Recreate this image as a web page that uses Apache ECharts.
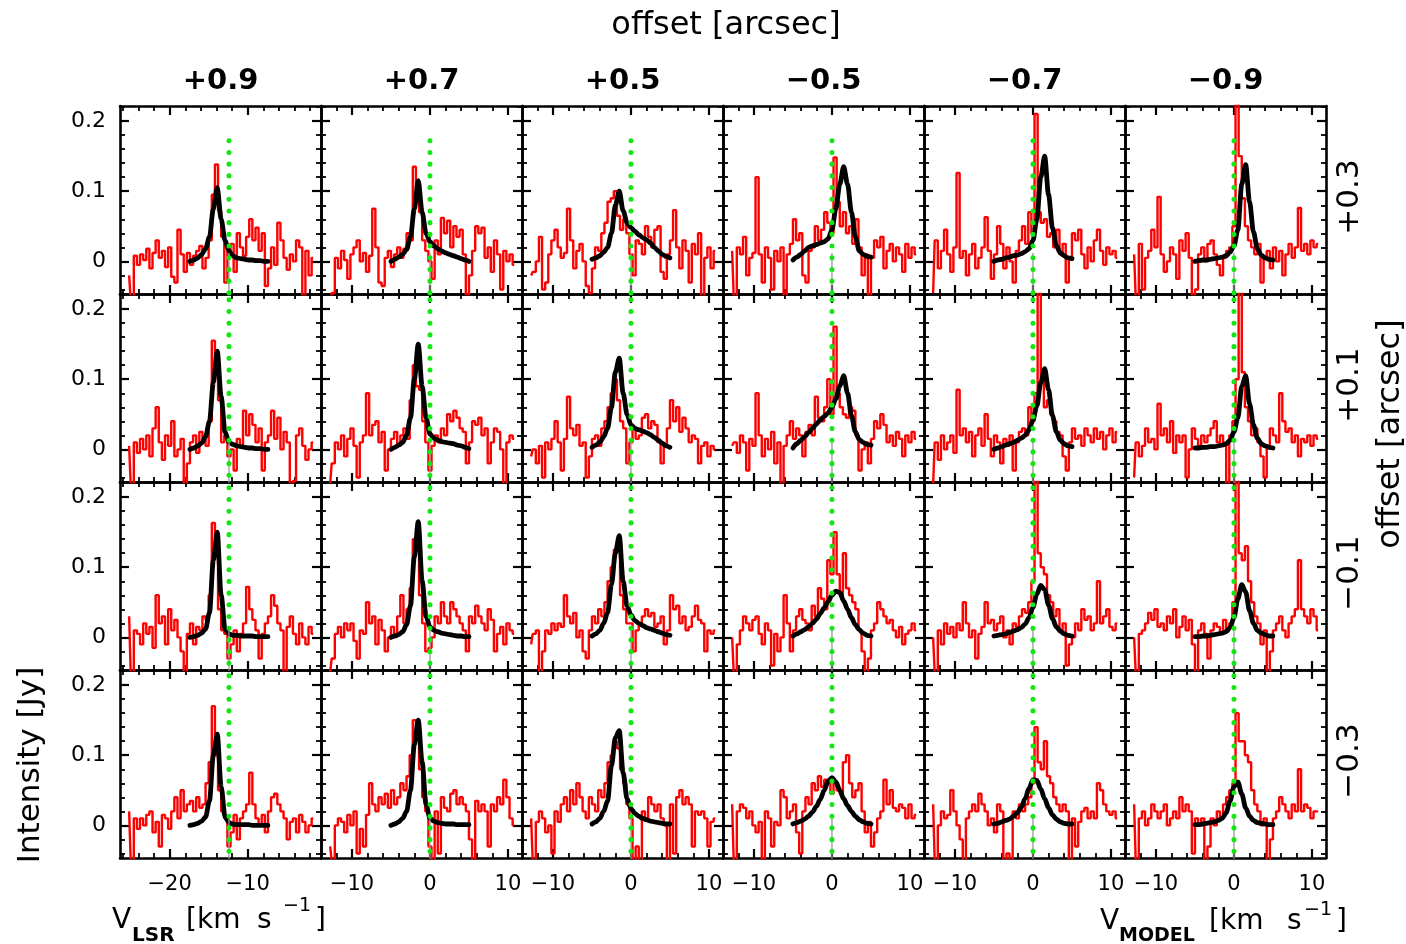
<!DOCTYPE html>
<html><head><meta charset="utf-8">
<script src="https://cdn.jsdelivr.net/npm/echarts/dist/echarts.min.js"></script>
<style>html,body{margin:0;padding:0;background:#fff}#c{width:1406px;height:944px}</style>
</head><body><div id="c"></div>
<script>
// ---------- labels / ticks ----------
const colLabels = ['+0.9', '+0.7', '+0.5', '\u22120.5', '\u22120.7', '\u22120.9'];
const rowLabels = ['+0.3', '+0.1', '\u22120.1', '\u22120.3'];
const vlsrMajorTicks = [-20, -10];
const vlsrMinorTicks = [-26, -24, -22, -20, -18, -16, -14, -12, -10, -8, -6, -4, -2];
const modelMajorTicks = [-10, 0, 10];
const modelMinorTicks = [-12, -10, -8, -6, -4, -2, 0, 2, 4, 6, 8, 10];
const yMajorTicks = [0, 0.1, 0.2];
const yMinorTicks = [-0.04, -0.02, 0, 0.02, 0.04, 0.06, 0.08, 0.1, 0.12, 0.14, 0.16, 0.18, 0.2, 0.22];

// channel grid of the observed spectra (km/s, model frame) and model curve sampling
const chanStart = -12.8, chanWidth = 0.4, chanCount = 60;
const modelStart = -5, modelStep = 0.5, modelCount = 21;
const vlsrOfModelZero = -12.4;        // first column is shown in V_LSR
const greenTop = [0.172, 0.23, 0.23, 0.23];
const greyTop = 0.012;

// ---------- observed spectra (Jy), rows: +0.3,+0.1,-0.1,-0.3 ; cols: +0.9 ... -0.9 ----------
const obs_r1_c1 = [-0.020,-0.055,0.008,-0.005,0.010,0.002,0.018,-0.010,0.012,0.030,0.005,0.015,-0.008,0.020,-0.022,-0.030,0.045,0.010,-0.015,0.012,-0.005,0.008,0.015,0.022,-0.010,0.005,0.030,0.095,0.138,0.072,0.035,-0.030,0.015,0.025,-0.015,0.040,0.020,0.008,0.035,0.060,0.030,0.048,0.015,0.040,-0.035,-0.010,0.020,-0.005,0.055,0.030,0.005,-0.012,0.010,0.000,0.030,0.020,-0.055,0.015,-0.020,0.005];
const obs_r1_c2 = [-0.060,-0.045,0.005,-0.010,0.015,0.002,-0.025,0.010,0.020,0.030,0.000,0.012,-0.015,0.008,0.075,0.020,-0.030,-0.035,0.005,0.015,-0.008,0.010,0.020,0.005,0.018,0.040,0.030,0.135,0.100,0.070,0.030,0.015,0.000,-0.025,0.030,0.010,0.062,0.040,0.058,0.020,0.050,0.035,0.045,0.010,-0.055,-0.020,0.015,0.050,0.040,0.048,0.005,0.020,-0.015,0.030,0.010,-0.040,0.015,0.000,0.010,-0.005];
const obs_r1_c3 = [-0.020,-0.015,0.000,0.035,-0.040,-0.030,0.010,0.030,0.045,0.020,0.005,0.012,0.075,0.030,-0.010,0.015,0.025,0.000,-0.035,-0.045,-0.010,0.020,0.015,0.040,0.055,0.085,0.090,0.100,0.065,0.045,0.060,0.040,0.010,-0.020,0.030,0.025,0.010,0.050,0.035,0.020,0.045,0.050,-0.015,-0.025,0.010,0.030,0.073,0.020,-0.010,0.030,0.015,-0.030,0.025,0.010,0.040,-0.050,0.005,0.020,-0.010,0.015];
const obs_r1_c4 = [0.015,-0.050,0.020,0.010,0.035,-0.020,0.005,0.012,0.120,0.010,-0.030,0.020,0.005,-0.040,0.015,0.000,0.020,-0.055,0.010,0.025,0.060,0.030,0.040,-0.020,-0.030,0.015,0.020,0.050,0.030,0.045,0.070,0.055,0.040,0.148,0.085,0.050,0.070,0.040,0.050,0.025,0.060,0.020,-0.020,0.010,-0.050,0.005,0.030,0.020,0.035,-0.010,0.015,0.025,0.000,0.020,0.010,-0.015,0.025,0.005,0.020,0.010];
const obs_r1_c5 = [-0.045,0.030,-0.010,0.015,0.045,0.010,-0.015,0.020,0.126,0.005,0.015,-0.020,0.010,0.025,-0.010,0.005,0.020,0.063,0.015,-0.025,0.010,0.050,0.025,-0.010,0.020,0.000,-0.030,0.015,0.030,0.050,0.025,0.070,0.040,0.210,0.070,0.055,0.060,0.035,0.040,0.020,0.045,0.010,0.025,-0.030,0.005,0.040,0.030,0.045,0.010,-0.010,0.020,0.000,0.030,0.045,0.015,-0.005,0.020,0.010,0.015,0.005];
const obs_r1_c6 = [0.010,-0.050,0.025,-0.040,0.005,0.015,0.045,0.020,0.092,0.010,-0.015,0.000,0.020,0.010,-0.025,0.030,0.015,0.040,0.005,-0.050,-0.040,0.010,0.020,0.000,0.025,0.030,0.010,-0.005,-0.020,0.005,0.015,0.020,0.050,0.260,0.150,0.090,0.050,0.030,0.020,0.010,0.025,-0.030,0.005,0.015,-0.010,0.020,0.000,0.015,-0.020,0.010,0.025,0.005,0.020,0.076,0.015,0.025,0.010,0.030,0.020,0.025];
const obs_r2_c1 = [0.005,-0.050,0.010,-0.005,0.015,0.000,0.020,-0.010,0.030,0.060,0.010,-0.015,0.020,0.005,0.040,-0.010,0.000,0.015,-0.050,-0.020,0.010,0.020,-0.005,0.025,0.015,0.005,0.040,0.155,0.110,0.070,0.010,0.020,-0.010,0.000,-0.030,0.015,0.005,0.055,0.020,0.050,0.035,0.010,0.030,-0.030,0.010,0.020,0.055,0.015,0.045,0.000,0.025,0.010,-0.050,-0.045,0.020,0.030,0.005,-0.015,0.000,0.010];
const obs_r2_c2 = [-0.050,-0.020,0.010,0.000,0.020,-0.010,0.015,0.030,0.005,-0.040,0.010,0.020,0.080,0.020,0.035,0.040,0.010,0.025,-0.030,0.000,0.015,0.025,0.005,0.020,0.030,0.015,0.070,0.120,0.090,0.085,0.040,0.010,-0.030,0.005,0.020,0.010,0.030,0.020,0.050,0.040,0.055,0.045,0.030,0.025,-0.020,0.010,0.040,0.035,0.045,0.020,0.030,-0.020,0.010,0.030,0.025,0.000,-0.050,0.010,0.020,0.015];
const obs_r2_c3 = [-0.010,0.000,-0.020,0.005,-0.040,0.010,0.000,0.015,0.040,0.010,-0.030,0.015,0.075,0.030,0.020,0.035,0.005,0.010,-0.040,-0.010,0.015,0.020,0.005,0.030,0.040,0.060,0.080,0.100,0.070,0.040,0.030,-0.020,0.010,0.030,0.015,0.020,0.045,0.050,0.030,0.040,0.035,0.010,-0.020,0.005,0.030,0.070,0.040,0.060,0.025,0.045,0.030,0.010,0.020,0.015,-0.020,0.005,0.010,-0.010,0.005,0.000];
const obs_r2_c4 = [0.005,0.010,-0.005,0.020,0.010,-0.030,0.015,0.005,0.080,0.020,-0.010,0.015,0.000,0.025,-0.020,0.010,-0.050,0.005,0.020,0.040,0.015,0.030,0.020,-0.010,0.025,0.035,0.020,0.075,0.045,0.040,0.060,0.100,0.050,0.175,0.080,0.060,0.050,0.045,0.060,0.055,0.020,-0.030,0.000,0.010,-0.020,0.015,0.040,0.030,0.050,0.035,0.010,0.020,0.005,0.025,0.015,-0.010,0.020,0.010,0.025,0.015];
const obs_r2_c5 = [-0.050,0.010,-0.015,0.020,0.000,0.010,0.020,-0.005,0.085,0.020,0.030,0.010,0.025,-0.010,0.020,0.030,0.005,0.050,0.015,-0.010,0.020,0.010,-0.020,0.015,0.005,0.020,-0.030,0.010,0.025,0.030,0.020,0.060,0.040,0.080,0.250,0.100,0.060,0.070,0.050,0.040,0.025,0.020,-0.010,-0.030,0.010,0.030,0.015,0.020,0.005,0.030,0.020,0.010,0.030,0.015,0.025,0.000,0.020,0.030,0.010,0.025];
const obs_r2_c6 = [-0.040,0.010,-0.010,0.005,0.030,0.010,0.015,0.000,0.065,0.020,0.030,0.010,0.040,-0.005,0.020,0.010,0.020,-0.040,0.000,0.030,0.015,0.005,0.020,0.010,0.020,0.030,0.040,0.010,0.020,0.005,-0.050,0.020,0.040,0.100,0.250,0.110,0.060,0.040,0.020,0.030,0.010,-0.010,-0.040,0.005,0.030,0.020,0.010,0.080,0.040,0.025,0.030,0.010,0.020,-0.010,0.015,0.010,0.020,0.005,0.020,0.015];
const obs_r3_c1 = [0.030,-0.050,0.010,0.005,-0.010,0.020,0.005,0.015,-0.015,0.060,0.020,0.030,-0.010,0.040,0.010,0.025,0.000,-0.020,-0.050,0.005,0.020,-0.010,0.015,0.010,0.030,0.025,0.060,0.163,0.120,0.040,0.010,0.005,-0.030,-0.010,0.010,-0.020,0.005,0.020,0.072,0.040,0.025,0.010,-0.030,0.005,0.020,0.030,0.060,0.045,0.020,0.010,-0.050,0.015,0.030,0.005,-0.010,0.020,0.000,-0.010,0.015,0.005];
const obs_r3_c2 = [-0.050,-0.030,0.005,0.015,0.000,0.020,0.010,0.020,-0.005,-0.030,0.010,0.005,0.050,0.020,0.030,-0.010,0.025,0.010,-0.020,0.000,0.015,0.005,0.030,0.060,0.020,0.040,0.070,0.140,0.130,0.060,0.020,-0.020,-0.015,0.000,0.030,0.020,0.050,0.030,0.020,0.050,0.040,0.030,0.020,0.010,-0.020,0.030,0.020,0.045,0.030,0.020,0.010,0.040,0.025,-0.020,0.005,0.015,-0.010,0.020,0.010,0.005];
const obs_r3_c3 = [-0.010,0.005,0.010,-0.050,-0.020,0.010,0.005,0.020,0.010,0.020,0.015,0.060,0.030,0.020,0.035,0.000,0.010,-0.020,-0.030,0.010,0.030,0.020,0.040,0.030,0.050,0.080,0.100,0.125,0.130,0.060,0.040,0.020,0.020,-0.020,0.010,0.020,0.030,0.040,0.030,0.035,0.015,0.020,0.030,-0.010,0.010,0.060,0.040,0.045,0.020,0.030,0.010,0.015,0.030,0.045,0.025,0.020,-0.020,0.010,0.005,0.010];
const obs_r3_c4 = [0.000,-0.050,-0.010,0.010,0.030,0.020,0.010,0.025,0.030,0.005,-0.010,0.020,0.010,-0.040,0.005,-0.020,0.000,0.060,0.020,-0.020,0.010,0.030,0.040,0.025,0.020,0.010,0.045,0.030,0.070,0.055,0.040,0.110,0.090,0.150,0.090,0.060,0.120,0.070,0.060,0.050,0.040,0.010,-0.020,-0.050,-0.030,0.010,0.020,0.050,0.040,0.030,0.020,0.025,0.010,0.000,0.015,-0.010,0.005,0.010,0.020,0.010];
const obs_r3_c5 = [0.000,-0.050,0.010,-0.010,0.020,0.005,0.015,0.000,0.020,0.010,0.050,0.020,0.000,0.010,-0.030,0.005,0.015,0.050,0.020,0.025,0.010,0.020,0.030,0.000,0.010,-0.010,0.020,0.015,0.030,0.040,0.035,0.050,0.080,0.250,0.120,0.100,0.090,0.060,0.050,0.030,0.040,0.010,0.020,-0.040,-0.010,0.000,0.020,0.010,0.040,0.025,0.030,0.010,0.020,0.080,0.020,0.030,0.040,0.015,0.010,0.020];
const obs_r3_c6 = [0.000,-0.050,0.005,0.010,0.020,0.035,0.025,0.040,0.015,0.020,0.010,0.030,0.020,0.040,0.000,0.015,0.030,0.010,0.025,-0.010,-0.050,0.010,0.020,0.005,-0.030,0.010,0.020,0.015,0.005,0.025,0.010,0.020,0.050,0.250,0.120,0.110,0.130,0.080,0.050,0.030,0.020,-0.010,0.010,-0.050,-0.020,0.010,0.020,0.030,0.010,0.000,0.020,0.030,0.040,0.110,0.040,0.030,0.020,0.040,0.030,0.010];
const obs_r4_c1 = [0.020,-0.050,0.010,-0.005,0.010,0.000,0.015,0.020,-0.010,0.005,-0.030,0.015,0.010,-0.005,0.020,0.040,0.010,0.050,0.020,0.030,0.035,0.020,0.040,0.025,0.030,0.060,0.090,0.170,0.100,0.050,0.020,0.010,-0.030,-0.010,0.015,-0.020,0.010,0.020,0.030,0.075,0.030,0.010,0.000,0.015,-0.010,0.020,0.040,0.045,0.030,0.020,0.010,-0.020,0.005,0.010,-0.010,0.015,0.005,-0.010,0.000,0.010];
const obs_r4_c2 = [-0.030,-0.050,0.000,0.010,0.005,-0.010,0.015,0.000,0.020,-0.040,-0.005,-0.030,0.015,0.060,0.030,0.020,0.040,0.030,0.045,0.025,0.050,0.030,0.040,0.060,0.050,0.070,0.100,0.150,0.130,0.080,0.040,0.020,-0.030,-0.050,0.020,-0.040,0.040,0.025,0.020,0.045,0.050,0.030,0.040,0.030,0.020,-0.020,-0.050,0.035,0.020,0.030,0.020,-0.030,0.030,0.020,0.040,0.030,0.065,0.040,0.010,0.000];
const obs_r4_c3 = [0.010,-0.050,0.005,0.020,0.010,-0.010,0.000,-0.040,0.020,0.005,0.030,0.040,0.020,0.050,0.030,0.060,0.040,0.020,0.010,0.040,0.030,0.020,0.050,0.040,0.060,0.090,0.100,0.120,0.110,0.080,0.060,0.030,0.010,-0.050,-0.030,-0.050,0.020,0.010,0.040,0.030,0.020,0.030,0.010,0.000,-0.050,0.030,-0.040,0.040,0.050,0.030,0.040,0.030,-0.030,0.020,0.015,0.020,0.010,-0.030,0.005,0.010];
const obs_r4_c4 = [0.030,-0.050,0.020,0.030,0.025,0.010,0.020,0.000,-0.010,0.005,-0.050,0.020,0.010,-0.030,0.005,0.000,0.050,0.040,0.010,0.020,0.030,-0.010,-0.040,0.020,0.040,0.030,0.060,0.050,0.070,0.055,0.065,0.060,0.045,0.060,0.050,0.045,0.090,0.100,0.060,0.040,0.050,0.060,0.020,-0.010,0.005,-0.030,-0.010,0.010,0.020,0.065,0.030,0.050,0.025,0.020,0.030,0.025,0.010,0.030,0.010,0.015];
const obs_r4_c5 = [0.030,-0.050,0.000,0.020,0.010,0.015,0.050,0.020,0.000,-0.020,-0.050,0.010,0.020,0.030,0.020,0.045,0.030,0.020,0.000,0.010,-0.010,0.030,0.020,-0.050,-0.040,-0.050,0.020,0.010,0.030,0.020,0.030,0.040,0.060,0.140,0.090,0.080,0.120,0.070,0.060,0.040,0.030,0.020,0.030,0.020,-0.050,0.010,-0.030,0.005,0.020,0.025,0.010,0.020,0.010,0.060,0.050,0.030,0.020,0.015,0.020,0.010];
const obs_r4_c6 = [0.030,-0.050,0.010,0.020,0.000,0.010,0.030,0.020,0.010,0.020,0.030,0.000,0.010,0.020,0.010,0.040,0.020,0.030,0.020,-0.040,0.010,0.000,0.010,-0.050,-0.030,0.010,0.000,0.020,0.010,0.030,0.040,0.050,0.060,0.160,0.120,0.120,0.100,0.090,0.050,0.030,0.020,0.000,0.010,-0.050,-0.020,0.010,0.020,0.040,0.030,0.020,0.010,0.030,0.020,0.080,0.020,0.030,0.025,0.010,0.020,0.020];

// ---------- model spectra (Jy), sampled from -5 to +5 km/s ----------
const mod_r1_c1 = [0.000,0.002,0.005,0.010,0.018,0.035,0.075,0.105,0.060,0.030,0.015,0.008,0.005,0.004,0.003,0.002,0.002,0.001,0.001,0.000,0.000];
const mod_r1_c2 = [0.000,0.003,0.006,0.010,0.017,0.035,0.075,0.115,0.070,0.040,0.028,0.022,0.018,0.015,0.012,0.010,0.008,0.006,0.004,0.002,0.000];
const mod_r1_c3 = [0.003,0.005,0.008,0.013,0.020,0.040,0.080,0.100,0.072,0.055,0.048,0.043,0.038,0.034,0.031,0.026,0.020,0.015,0.010,0.007,0.005];
const mod_r1_c4 = [0.002,0.006,0.010,0.015,0.020,0.022,0.024,0.026,0.028,0.032,0.045,0.075,0.110,0.135,0.110,0.070,0.035,0.015,0.010,0.007,0.006];
const mod_r1_c5 = [0.000,0.002,0.003,0.005,0.006,0.008,0.009,0.011,0.014,0.018,0.030,0.060,0.120,0.150,0.095,0.048,0.022,0.012,0.008,0.005,0.004];
const mod_r1_c6 = [0.000,0.001,0.002,0.002,0.003,0.004,0.005,0.006,0.008,0.013,0.022,0.045,0.110,0.138,0.085,0.042,0.018,0.009,0.005,0.003,0.002];
const mod_r2_c1 = [0.000,0.002,0.005,0.009,0.018,0.040,0.095,0.140,0.075,0.025,0.010,0.007,0.005,0.004,0.003,0.002,0.002,0.001,0.001,0.000,0.000];
const mod_r2_c2 = [0.000,0.003,0.006,0.010,0.020,0.045,0.100,0.150,0.090,0.045,0.022,0.016,0.013,0.011,0.010,0.009,0.008,0.006,0.005,0.003,0.001];
const mod_r2_c3 = [0.003,0.006,0.010,0.018,0.030,0.060,0.110,0.130,0.080,0.050,0.035,0.030,0.028,0.026,0.024,0.021,0.017,0.013,0.009,0.005,0.003];
const mod_r2_c4 = [0.002,0.008,0.013,0.018,0.024,0.030,0.036,0.042,0.047,0.052,0.060,0.072,0.090,0.105,0.080,0.048,0.025,0.014,0.010,0.007,0.006];
const mod_r2_c5 = [0.000,0.002,0.004,0.006,0.008,0.010,0.013,0.016,0.020,0.028,0.042,0.062,0.095,0.115,0.085,0.048,0.025,0.013,0.008,0.005,0.004];
const mod_r2_c6 = [0.002,0.002,0.003,0.003,0.004,0.004,0.005,0.006,0.008,0.013,0.025,0.045,0.090,0.105,0.065,0.035,0.016,0.008,0.005,0.003,0.002];
const mod_r3_c1 = [0.000,0.001,0.003,0.006,0.012,0.035,0.110,0.150,0.060,0.012,0.005,0.003,0.003,0.002,0.002,0.002,0.002,0.001,0.001,0.001,0.001];
const mod_r3_c2 = [0.000,0.002,0.004,0.008,0.018,0.045,0.115,0.165,0.080,0.030,0.015,0.010,0.008,0.006,0.005,0.004,0.003,0.002,0.002,0.001,0.001];
const mod_r3_c3 = [0.002,0.005,0.010,0.020,0.035,0.075,0.120,0.145,0.080,0.045,0.032,0.024,0.020,0.017,0.014,0.012,0.010,0.008,0.006,0.004,0.003];
const mod_r3_c4 = [0.002,0.005,0.008,0.011,0.015,0.020,0.026,0.034,0.042,0.051,0.060,0.066,0.064,0.052,0.040,0.028,0.018,0.011,0.006,0.003,0.002];
const mod_r3_c5 = [0.002,0.003,0.004,0.005,0.007,0.009,0.011,0.014,0.019,0.028,0.043,0.062,0.074,0.068,0.046,0.027,0.015,0.009,0.005,0.003,0.002];
const mod_r3_c6 = [0.001,0.001,0.002,0.002,0.003,0.004,0.005,0.006,0.008,0.014,0.028,0.055,0.075,0.065,0.038,0.020,0.010,0.006,0.004,0.002,0.002];
const mod_r4_c1 = [0.000,0.001,0.003,0.006,0.012,0.035,0.100,0.130,0.055,0.012,0.004,0.002,0.001,0.001,0.001,0.001,0.000,0.000,0.000,0.000,0.000];
const mod_r4_c2 = [0.000,0.002,0.005,0.010,0.020,0.050,0.115,0.150,0.090,0.030,0.010,0.006,0.004,0.003,0.002,0.002,0.002,0.001,0.001,0.001,0.001];
const mod_r4_c3 = [0.002,0.005,0.010,0.020,0.035,0.085,0.125,0.135,0.075,0.038,0.024,0.017,0.013,0.010,0.008,0.006,0.005,0.004,0.003,0.002,0.002];
const mod_r4_c4 = [0.002,0.004,0.006,0.009,0.013,0.019,0.027,0.037,0.050,0.063,0.068,0.062,0.050,0.038,0.028,0.020,0.013,0.008,0.005,0.003,0.002];
const mod_r4_c5 = [0.002,0.003,0.005,0.007,0.009,0.013,0.018,0.026,0.038,0.053,0.065,0.064,0.052,0.038,0.025,0.015,0.009,0.005,0.003,0.002,0.002];
const mod_r4_c6 = [0.001,0.001,0.002,0.003,0.004,0.005,0.007,0.010,0.018,0.035,0.055,0.062,0.045,0.025,0.013,0.007,0.004,0.003,0.002,0.001,0.001];

const obsPanels = [
  [obs_r1_c1, obs_r1_c2, obs_r1_c3, obs_r1_c4, obs_r1_c5, obs_r1_c6],
  [obs_r2_c1, obs_r2_c2, obs_r2_c3, obs_r2_c4, obs_r2_c5, obs_r2_c6],
  [obs_r3_c1, obs_r3_c2, obs_r3_c3, obs_r3_c4, obs_r3_c5, obs_r3_c6],
  [obs_r4_c1, obs_r4_c2, obs_r4_c3, obs_r4_c4, obs_r4_c5, obs_r4_c6]
];
const modPanels = [
  [mod_r1_c1, mod_r1_c2, mod_r1_c3, mod_r1_c4, mod_r1_c5, mod_r1_c6],
  [mod_r2_c1, mod_r2_c2, mod_r2_c3, mod_r2_c4, mod_r2_c5, mod_r2_c6],
  [mod_r3_c1, mod_r3_c2, mod_r3_c3, mod_r3_c4, mod_r3_c5, mod_r3_c6],
  [mod_r4_c1, mod_r4_c2, mod_r4_c3, mod_r4_c4, mod_r4_c5, mod_r4_c6]
];

// ---------- layout ----------
const L0 = 120, T0 = 106, CW = 201, RH = 188;
const X_MIN = -13.97, X_MAX = 11.8;
const Y_MIN = -0.0465, Y_MAX = 0.2215;
const FONT = '"DejaVu Sans", sans-serif';
const minus = s => String(s).replace('-', '\u2212');

const grids = [], xAxes = [], yAxes = [], series = [];
for (let r = 0; r < 4; r++) {
  for (let c = 0; c < 6; c++) {
    const g = grids.length;
    grids.push({left: L0 + CW * c, top: T0 + RH * r, width: CW, height: RH,
      show: false, containLabel: false, outerBoundsMode: 'none'});
    const shift = c === 0 ? vlsrOfModelZero : 0;
    const xmin = X_MIN + shift, xmax = X_MAX + shift;
    const major = c === 0 ? vlsrMajorTicks : modelMajorTicks;
    const minor = c === 0 ? vlsrMinorTicks : modelMinorTicks;
    ['bottom', 'top'].forEach(pos => {
      xAxes.push({gridIndex: g, type: 'value', min: xmin, max: xmax, position: pos,
        axisLine: {show: true, onZero: false, lineStyle: {color: '#000', width: 2.6}},
        axisTick: {show: true, inside: true, length: 9, customValues: major, lineStyle: {color: '#000', width: 2.2}},
        axisLabel: {show: pos === 'bottom' && r === 3, customValues: major, margin: 16, color: '#000',
          fontFamily: FONT, fontSize: 21, formatter: v => minus(Math.round(v))},
        splitLine: {show: false}});
      xAxes.push({gridIndex: g, type: 'value', min: xmin, max: xmax, position: pos,
        axisLine: {show: false, onZero: false},
        axisTick: {show: true, inside: true, length: 5, customValues: minor, lineStyle: {color: '#000', width: 1.8}},
        axisLabel: {show: false}, splitLine: {show: false}});
    });
    ['left', 'right'].forEach(pos => {
      yAxes.push({gridIndex: g, type: 'value', min: Y_MIN, max: Y_MAX, position: pos,
        axisLine: {show: true, onZero: false, lineStyle: {color: '#000', width: 2.6}},
        axisTick: {show: true, inside: true, length: 9, customValues: yMajorTicks, lineStyle: {color: '#000', width: 2.2}},
        axisLabel: {show: pos === 'left' && c === 0, customValues: yMajorTicks, margin: 14, color: '#000',
          fontFamily: FONT, fontSize: 22, formatter: v => (Math.abs(v) < 1e-9 ? '0' : v.toFixed(1))},
        splitLine: {show: false}});
      yAxes.push({gridIndex: g, type: 'value', min: Y_MIN, max: Y_MAX, position: pos,
        axisLine: {show: false, onZero: false},
        axisTick: {show: true, inside: true, length: 5, customValues: yMinorTicks, lineStyle: {color: '#000', width: 1.8}},
        axisLabel: {show: false}, splitLine: {show: false}});
    });
    const xi = g * 4, yi = g * 4;
    const obs = obsPanels[r][c], mod = modPanels[r][c];
    series.push({type: 'line', xAxisIndex: xi, yAxisIndex: yi, step: 'middle', showSymbol: false,
      silent: true, clip: true, z: 2,
      lineStyle: {color: '#ff0000', width: 2.4},
      data: obs.map((y, i) => [chanStart + chanWidth * i + shift, y])});
    series.push({type: 'line', xAxisIndex: xi, yAxisIndex: yi, showSymbol: false, silent: true, clip: true, z: 3,
      smooth: 0.3, smoothMonotone: 'x',
      lineStyle: {color: '#000', width: 4.8, cap: 'round', join: 'round'},
      data: mod.map((y, i) => [modelStart + modelStep * i + shift, y])});
    series.push({type: 'line', xAxisIndex: xi, yAxisIndex: yi, showSymbol: false, silent: true, clip: true, z: 4,
      lineStyle: {color: '#9a9a9a', width: 1.3},
      data: [[shift, greyTop], [shift, Y_MIN - 0.01]]});
    series.push({type: 'line', xAxisIndex: xi, yAxisIndex: yi, showSymbol: false, silent: true, clip: true, z: 5,
      lineStyle: {color: '#14e614', width: 5, type: [0.1, 11.6], cap: 'round'},
      data: [[shift, greenTop[r]], [shift, Y_MIN - 0.01]]});
  }
}

// ---------- text ----------
function txt(text, x, y, size, o) {
  o = o || {};
  const font = (o.bold ? 'bold ' : '') + size + 'px ' + FONT;
  const align = o.align || 'center';
  return {type: 'text', x: x, y: y, rotation: o.rot || 0, silent: true, z: 100,
    style: {text: text, font: font, fill: '#000', textAlign: align, textVerticalAlign: 'middle',
      align: align, verticalAlign: 'middle'}};
}
const gfx = [];
gfx.push(txt('offset [arcsec]', 726, 26, 32));
colLabels.forEach((t, c) => gfx.push(txt(t, L0 + CW * c + CW / 2, 81, 29, {bold: true})));
rowLabels.forEach((t, r) => gfx.push(txt(t, 1350, T0 + RH * r + RH / 2 - 3, 31, {rot: Math.PI / 2})));
gfx.push(txt('offset [arcsec]', 1391, 434, 32, {rot: Math.PI / 2}));
gfx.push(txt('Intensity [Jy]', 31, 765, 31, {rot: Math.PI / 2}));
// V_LSR [km s^-1]
gfx.push(txt('V', 112, 921, 28, {align: 'left'}));
gfx.push(txt('LSR', 132, 936, 20, {align: 'left', bold: true}));
gfx.push(txt('[km', 186, 921, 28, {align: 'left'}));
gfx.push(txt('s', 257, 921, 28, {align: 'left'}));
gfx.push(txt('\u22121', 283, 906, 19, {align: 'left'}));
gfx.push(txt(']', 315, 921, 28, {align: 'left'}));
// V_MODEL [km s^-1]
gfx.push(txt('V', 1100, 922, 28, {align: 'left'}));
gfx.push(txt('MODEL', 1119, 936, 19, {align: 'left', bold: true}));
gfx.push(txt('[km', 1209, 922, 28, {align: 'left'}));
gfx.push(txt('s', 1287, 922, 28, {align: 'left'}));
gfx.push(txt('\u22121', 1304, 910, 19, {align: 'left'}));
gfx.push(txt(']', 1336, 922, 28, {align: 'left'}));

const chart = echarts.init(document.getElementById('c'), null, {renderer: 'canvas'});
chart.setOption({
  animation: false,
  backgroundColor: '#ffffff',
  grid: grids, xAxis: xAxes, yAxis: yAxes, series: series,
  graphic: gfx
});
</script></body></html>
